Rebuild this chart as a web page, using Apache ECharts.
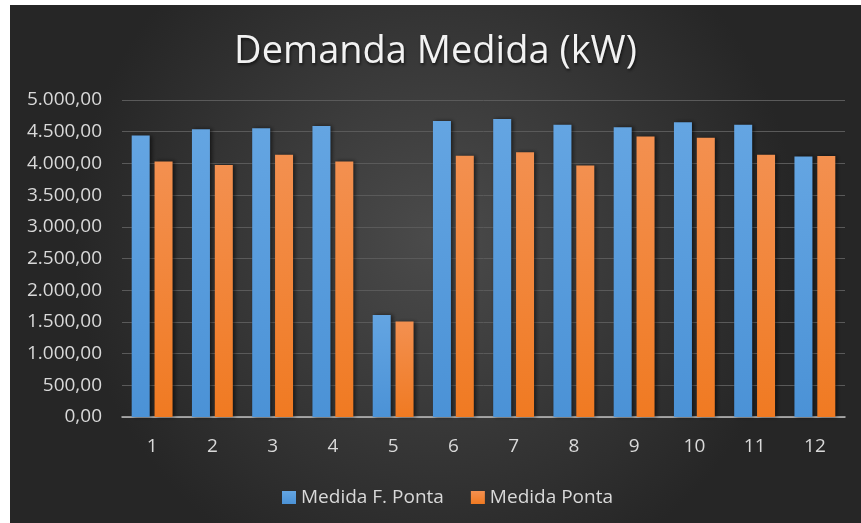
<!DOCTYPE html>
<html>
<head>
<meta charset="utf-8">
<script src="https://cdn.jsdelivr.net/npm/echarts@6/dist/echarts.min.js"></script>
<style>
  html, body { margin: 0; padding: 0; background: #fff; }
  #chart { position: absolute; left: 10px; top: 5px; width: 851px; height: 518px; }
</style>
</head>
<body>
<div id="chart"></div>
<script>
const months = ['1', '2', '3', '4', '5', '6', '7', '8', '9', '10', '11', '12']
const foraPonta = [4440, 4540, 4555, 4590, 1610, 4670, 4700, 4610, 4570, 4650, 4610, 4110]
const ponta = [4030, 3975, 4135, 4030, 1505, 4120, 4175, 3965, 4425, 4405, 4135, 4115]
const seriesNames = ['Medida F. Ponta', 'Medida Ponta']

const fmt = v => {
  const parts = v.toFixed(2).split('.')
  return parts[0].replace(/\B(?=(\d{3})+(?!\d))/g, '.') + ',' + parts[1]
}

const chart = echarts.init(document.getElementById('chart'))
const font = '"Open Sans", "Noto Sans", sans-serif'

const barStyle = (top, bottom) => ({
  color: new echarts.graphic.LinearGradient(0, 0, 0, 1, [
    { offset: 0, color: top },
    { offset: 1, color: bottom }
  ]),
  shadowColor: 'rgba(0,0,0,0.55)',
  shadowBlur: 4,
  shadowOffsetX: 2
})

chart.setOption({
  backgroundColor: new echarts.graphic.RadialGradient(0.5, 0.45, 0.7, [
    { offset: 0, color: '#4b4b4b' },
    { offset: 1, color: '#262626' }
  ]),
  animation: false,
  title: {
    text: 'Demanda Medida (kW)',
    left: 'center',
    top: 28,
    padding: 0,
    textStyle: {
      color: '#f2f2f2',
      fontFamily: font,
      fontSize: 38,
      fontWeight: 'normal',
      textShadowColor: 'rgba(0,0,0,0.6)',
      textShadowBlur: 3,
      textShadowOffsetX: 1,
      textShadowOffsetY: 2
    }
  },
  legend: {
    data: seriesNames,
    left: 272,
    top: 483,
    padding: 0,
    icon: 'rect',
    itemWidth: 14,
    itemHeight: 13,
    itemGap: 27,
    textStyle: { color: '#d9d9d9', fontFamily: font, fontSize: 19 }
  },
  grid: { left: 112, right: 16, top: 95, bottom: 106 },
  xAxis: {
    type: 'category',
    data: months,
    axisLine: { lineStyle: { color: '#bfbfbf', width: 1.5 } },
    axisTick: { show: false },
    axisLabel: { color: '#d9d9d9', fontFamily: font, fontSize: 19, margin: 20 }
  },
  yAxis: {
    type: 'value',
    min: 0,
    max: 5000,
    interval: 500,
    axisLine: { show: false },
    axisTick: { show: false },
    splitLine: { lineStyle: { color: '#5a5a5a', width: 1 } },
    axisLabel: { color: '#d9d9d9', fontFamily: font, fontSize: 19, margin: 20, formatter: fmt }
  },
  series: [
    {
      name: seriesNames[0],
      type: 'bar',
      data: foraPonta,
      barWidth: 18,
      barGap: '27%',
      itemStyle: barStyle('#64a5e2', '#4b92d6')
    },
    {
      name: seriesNames[1],
      type: 'bar',
      data: ponta,
      barWidth: 18,
      itemStyle: barStyle('#f39050', '#f07a22')
    }
  ]
})
</script>
</body>
</html>
